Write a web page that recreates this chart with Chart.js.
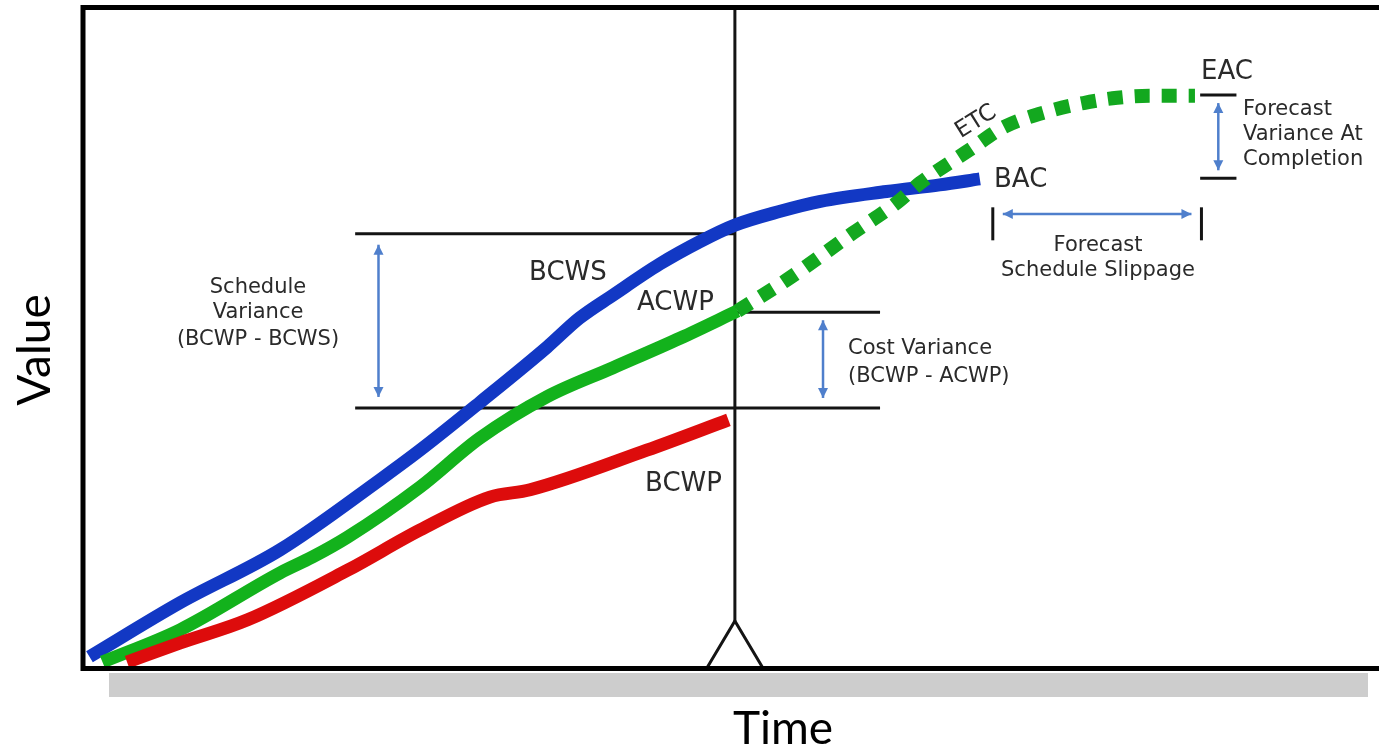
<!DOCTYPE html>
<html>
<head>
<meta charset="utf-8">
<script src="https://cdn.jsdelivr.net/npm/chart.js@4.4.0/dist/chart.umd.min.js"></script>
<style>
  html, body { margin: 0; padding: 0; background: #fff; }
  canvas { display: block; }
</style>
</head>
<body>
<canvas id="grafico" width="1379" height="751"></canvas>
<script>
// curvas (tempo 0-100, valor 0-100)
const bcws = [
    [0.5, 1.7], [7.5, 9.9], [15.2, 17.9], [22.9, 28.5], [26.0, 33.0], [30.6, 40.2],
    [35.8, 48.6], [38.3, 53.0], [40.9, 56.5], [44.5, 61.2], [47.6, 64.6], [50.3, 67.1],
    [53.8, 69.2], [56.9, 70.7], [62.0, 72.2], [66.1, 73.2], [69.2, 74.1]
];
const acwp = [
    [1.5, 0.9], [7.5, 5.8], [15.2, 14.4], [17.7, 16.8], [20.4, 19.8], [26.0, 27.4],
    [30.6, 34.8], [35.8, 41.1], [40.9, 45.5], [46.1, 50.0], [50.5, 54.1]
];
const etc = [
    [50.5, 54.1], [54.3, 58.8], [59.4, 65.9], [62.8, 70.5], [64.6, 73.5], [68.4, 78.5],
    [71.1, 82.0], [74.6, 84.4], [77.2, 85.6], [79.8, 86.4], [82.3, 86.7], [85.8, 86.7]
];
const bcwp = [
    [3.4, 0.9], [7.5, 3.8], [12.7, 7.3], [20.4, 14.8], [26.0, 20.9], [31.4, 25.9],
    [34.5, 27.0], [43.5, 33.0], [49.8, 37.6]
];

// linhas de referencia
const dataStatus = 50.3;
const dataBAC = 70.2;
const dataEAC = 86.3;
const svTopo = 65.8;
const svBase = 39.4;
const cvTopo = 53.9;
const valorEAC = 86.8;
const valorBAC = 74.2;

const toXY = arr => arr.map(p => ({ x: p[0], y: p[1] }));

const corTexto = '#2a2a2a';
const corSeta = '#4f7fcc';
const fonteAnot = '"DejaVu Sans", sans-serif';

function seta(ctx, x1, y1, x2, y2) {
    // linha com pontas nas duas extremidades
    ctx.save();
    ctx.strokeStyle = corSeta;
    ctx.fillStyle = corSeta;
    ctx.lineWidth = 2.5;
    ctx.beginPath();
    ctx.moveTo(x1, y1);
    ctx.lineTo(x2, y2);
    ctx.stroke();
    const ang = Math.atan2(y2 - y1, x2 - x1);
    [[x1, y1, ang + Math.PI], [x2, y2, ang]].forEach(function (p) {
        ctx.beginPath();
        ctx.moveTo(p[0], p[1]);
        ctx.lineTo(p[0] - 10 * Math.cos(p[2]) + 5 * Math.sin(p[2]), p[1] - 10 * Math.sin(p[2]) - 5 * Math.cos(p[2]));
        ctx.lineTo(p[0] - 10 * Math.cos(p[2]) - 5 * Math.sin(p[2]), p[1] - 10 * Math.sin(p[2]) + 5 * Math.cos(p[2]));
        ctx.closePath();
        ctx.fill();
    });
    ctx.restore();
}

function linha(ctx, x1, y1, x2, y2, w) {
    ctx.beginPath();
    ctx.lineWidth = w || 3;
    ctx.moveTo(x1, y1);
    ctx.lineTo(x2, y2);
    ctx.stroke();
}

const fundo = {
    id: 'fundo',
    beforeDatasetsDraw(chart) {
        const ctx = chart.ctx;
        const a = chart.chartArea;
        const X = v => chart.scales.x.getPixelForValue(v);
        const Y = v => chart.scales.y.getPixelForValue(v);
        ctx.save();

        // barra cinza embaixo
        ctx.fillStyle = '#cdcdcd';
        ctx.fillRect(109, a.bottom + 5, 1259, 24);

        ctx.strokeStyle = '#141414';
        // data de status + triangulo
        const xs = X(dataStatus);
        linha(ctx, xs, a.top, xs, a.bottom - 47, 3);
        ctx.beginPath();
        ctx.lineWidth = 3;
        ctx.moveTo(xs - 28, a.bottom);
        ctx.lineTo(xs, a.bottom - 47);
        ctx.lineTo(xs + 28, a.bottom);
        ctx.stroke();

        // variancia de prazo / custo
        linha(ctx, X(21.0), Y(svTopo), xs, Y(svTopo));
        linha(ctx, X(21.0), Y(svBase), X(61.5), Y(svBase));
        linha(ctx, xs, Y(cvTopo), X(61.5), Y(cvTopo));

        // EAC / BAC
        linha(ctx, X(86.2), Y(valorEAC), X(89.0), Y(valorEAC));
        linha(ctx, X(86.2), Y(valorBAC), X(89.0), Y(valorBAC));
        linha(ctx, X(dataBAC), Y(69.8), X(dataBAC), Y(64.8));
        linha(ctx, X(dataEAC), Y(69.8), X(dataEAC), Y(64.8));

        // setas
        seta(ctx, X(22.8), Y(svTopo) + 11, X(22.8), Y(svBase) - 11);
        seta(ctx, X(57.1), Y(cvTopo) + 8, X(57.1), Y(svBase) - 10);
        seta(ctx, X(87.6), Y(valorEAC) + 8, X(87.6), Y(valorBAC) - 8);
        seta(ctx, X(dataBAC) + 10, Y(68.8), X(dataEAC) - 10, Y(68.8));

        ctx.restore();
    },
    afterDatasetsDraw(chart) {
        const ctx = chart.ctx;
        const a = chart.chartArea;
        ctx.save();

        // moldura (sem lado direito)
        ctx.strokeStyle = '#000';
        ctx.lineWidth = 5;
        ctx.beginPath();
        ctx.moveTo(1379, a.top - 0.5);
        ctx.lineTo(a.left, a.top - 0.5);
        ctx.lineTo(a.left, a.bottom + 0.5);
        ctx.lineTo(1379, a.bottom + 0.5);
        ctx.stroke();

        // textos
        ctx.fillStyle = corTexto;
        ctx.textBaseline = 'middle';
        ctx.textAlign = 'center';
        ctx.font = '21px ' + fonteAnot;
        ctx.fillText('Schedule', 258, 288);
        ctx.fillText('Variance', 258, 313);
        ctx.fillText('(BCWP - BCWS)', 258, 340);
        ctx.fillText('Forecast', 1098, 246);
        ctx.fillText('Schedule Slippage', 1098, 271);

        ctx.textAlign = 'left';
        ctx.fillText('Cost Variance', 848, 349);
        ctx.fillText('(BCWP - ACWP)', 848, 377);
        ctx.fillText('Forecast', 1243, 110);
        ctx.fillText('Variance At', 1243, 135);
        ctx.fillText('Completion', 1243, 160);

        ctx.font = '26px ' + fonteAnot;
        ctx.fillText('BCWS', 529, 273);
        ctx.fillText('ACWP', 637, 303);
        ctx.fillText('BCWP', 645, 484);
        ctx.fillText('BAC', 994, 180);
        ctx.fillText('EAC', 1201, 72);

        ctx.save();
        ctx.translate(976, 122);
        ctx.rotate(-0.56);
        ctx.textAlign = 'center';
        ctx.font = '23px ' + fonteAnot;
        ctx.fillText('ETC', 0, 0);
        ctx.restore();

        // eixos
        ctx.fillStyle = '#000';
        ctx.font = '46px Lato, sans-serif';
        ctx.textAlign = 'center';
        ctx.fillText('Time', 783, 729);
        ctx.save();
        ctx.translate(35, 350);
        ctx.rotate(-Math.PI / 2);
        ctx.fillText('Value', 0, 0);
        ctx.restore();

        ctx.restore();
    }
};

function serie(nome, pontos, cor, extra) {
    return Object.assign({
        label: nome,
        data: toXY(pontos),
        borderColor: cor,
        borderWidth: 13,
        borderCapStyle: 'butt',
        borderJoinStyle: 'round',
        pointRadius: 0,
        cubicInterpolationMode: 'monotone',
        fill: false,
        clip: false
    }, extra || {});
}

new Chart(document.getElementById('grafico'), {
    type: 'line',
    data: {
        datasets: [
            serie('BCWP', bcwp, '#dd0c0c'),
            serie('ETC', etc, '#13a81f', { borderWidth: 14, borderDash: [15, 12] }),
            serie('ACWP', acwp, '#13b21c'),
            serie('BCWS', bcws, '#1238c4')
        ]
    },
    options: {
        responsive: false,
        animation: false,
        devicePixelRatio: 1,
        layout: { padding: { left: 83, top: 8, right: 0, bottom: 83 } },
        scales: {
            x: { type: 'linear', min: 0, max: 100, display: false },
            y: { type: 'linear', min: 0, max: 100, display: false }
        },
        plugins: {
            legend: { display: false },
            tooltip: { enabled: false }
        }
    },
    plugins: [fundo]
});
</script>
</body>
</html>
